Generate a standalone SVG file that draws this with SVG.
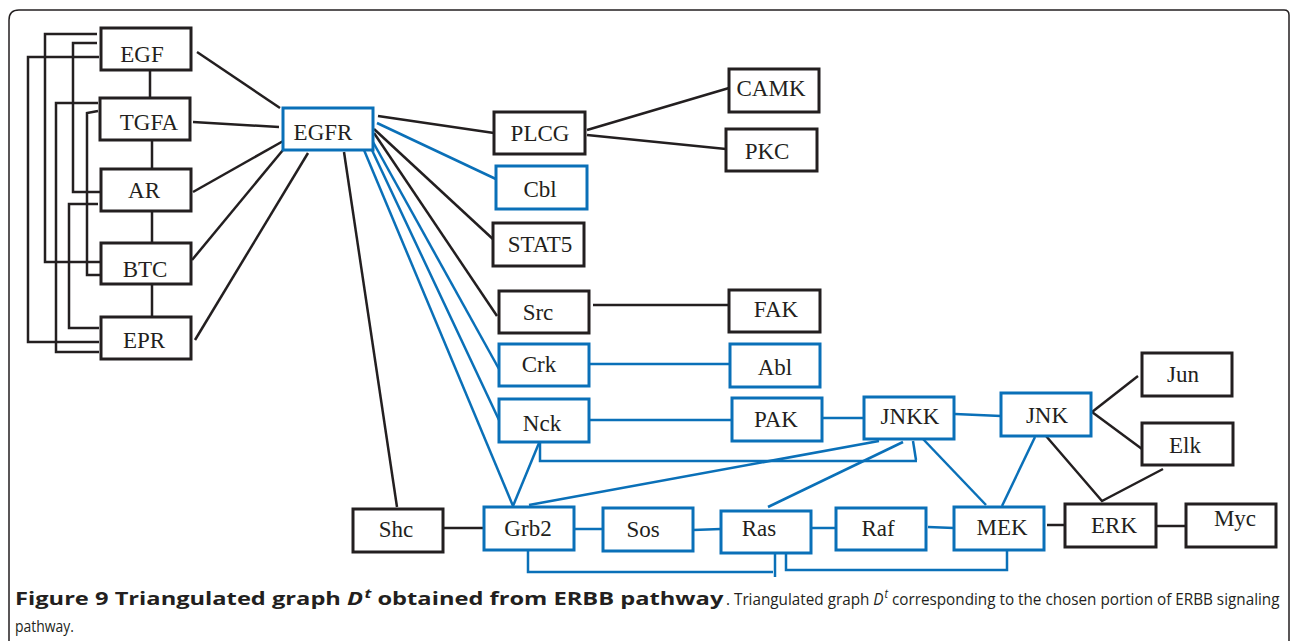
<svg xmlns="http://www.w3.org/2000/svg" width="1290" height="641" viewBox="0 0 1290 641">
<style>
.k{fill:#fff;stroke:#231f20;stroke-width:3}
.b{fill:#fff;stroke:#0a70b8;stroke-width:3}
.t{font-family:"Liberation Serif","Times New Roman",serif;font-size:23px;fill:#231f20;text-anchor:middle}
.lk{fill:none;stroke:#231f20;stroke-width:2.5}
.lb{fill:none;stroke:#0a70b8;stroke-width:2.5}
.cap{font-family:"Open Sans","Liberation Sans",sans-serif;font-size:17px;fill:#231f20}
</style>
<rect width="1290" height="641" fill="#fff"/>
<path d="M9 641 V20 Q9 10 19 10 H1284 Q1289 10 1289 15 V641" fill="none" stroke="#231f20" stroke-width="1.5"/>
<g id="connectors">
<g class="lk">
<path d="M97 34 H45 V262 H100"/>
<path d="M97 43 H73 V192 H100"/>
<path d="M99 57 H28 V342 H99"/>
<path d="M98 103 H56 V352 H99"/>
<path d="M98 111 L87 113 V275 H100"/>
<path d="M98 204 H69 V328 H99"/>
<path d="M150 70 V98 M152 140 V169 M152 211 V243 M152 284 V317"/>
<path d="M197 52 L280 108"/>
<path d="M193 122 L279 127"/>
<path d="M193 192 L285 140"/>
<path d="M192 260 L283 150"/>
<path d="M195 340 L308 153"/>
<path d="M344 152 L397 507"/>
<path d="M378 116 L494 133"/>
<path d="M587 130 L729 88"/>
<path d="M587 135 L726 149"/>
<path d="M374 129 L495 241"/>
<path d="M374 133 L497 316"/>
<path d="M593 305 H729"/>
<path d="M443 528 H484"/>
<path d="M1092 412 L1138 376"/>
<path d="M1092 412 L1142 449"/>
<path d="M1046 436 L1102 501 L1163 469"/>
<path d="M1047 525 H1065"/>
<path d="M1157 526 H1186"/>
</g>
<g class="lb">
<path d="M377 123 L498 180"/>
<path d="M373 142 L499 369"/>
<path d="M371 148 L499 420"/>
<path d="M364 150 L513 506"/>
<path d="M589 364 H730"/>
<path d="M589 420 H733"/>
<path d="M822 418 H864"/>
<path d="M955 414 L1001 416"/>
<path d="M539 443 L513 506"/>
<path d="M540 443 V461 H917"/>
<path d="M913 441 L916 460"/>
<path d="M879 441 L529 505"/>
<path d="M903 442 L768 507"/>
<path d="M923 439 L986 505"/>
<path d="M1035 437 L1002 506"/>
<path d="M574 529 H603"/>
<path d="M693 530 L721 529"/>
<path d="M811 528 H836"/>
<path d="M928 527 L954 528"/>
<path d="M528 550 V572 H773"/>
<path d="M775 553 V577"/>
<path d="M786 553 V570 H1007 V550"/>
</g>
</g>
<g id="EGF"><rect class="k" x="101" y="28" width="90" height="42"/><text class="t" x="142" y="62">EGF</text></g>
<g id="TGFA"><rect class="k" x="100" y="98" width="90" height="42"/><text class="t" x="149" y="130">TGFA</text></g>
<g id="AR"><rect class="k" x="101" y="169" width="90" height="42"/><text class="t" x="144" y="198">AR</text></g>
<g id="BTC"><rect class="k" x="101" y="243" width="90" height="41"/><text class="t" x="145" y="277">BTC</text></g>
<g id="EPR"><rect class="k" x="101" y="317" width="90" height="42"/><text class="t" x="144" y="348">EPR</text></g>
<g id="EGFR"><rect class="b" x="283" y="108" width="90" height="42"/><text class="t" x="323" y="140">EGFR</text></g>
<g id="PLCG"><rect class="k" x="494" y="112" width="91" height="42"/><text class="t" x="540" y="141">PLCG</text></g>
<g id="CAMK"><rect class="k" x="729" y="69" width="90" height="43"/><text class="t" x="771" y="96">CAMK</text></g>
<g id="PKC"><rect class="k" x="726" y="129" width="91" height="42"/><text class="t" x="767" y="159">PKC</text></g>
<g id="Cbl"><rect class="b" x="496" y="166" width="91" height="43"/><text class="t" x="540" y="197">Cbl</text></g>
<g id="STAT5"><rect class="k" x="493" y="223" width="91" height="43"/><text class="t" x="540" y="252">STAT5</text></g>
<g id="Src"><rect class="k" x="499" y="291" width="90" height="42"/><text class="t" x="538" y="320">Src</text></g>
<g id="FAK"><rect class="k" x="729" y="290" width="91" height="42"/><text class="t" x="776" y="317">FAK</text></g>
<g id="Crk"><rect class="b" x="499" y="344" width="90" height="42"/><text class="t" x="539" y="372">Crk</text></g>
<g id="Abl"><rect class="b" x="730" y="344" width="90" height="43"/><text class="t" x="775" y="375">Abl</text></g>
<g id="Nck"><rect class="b" x="499" y="399" width="90" height="43"/><text class="t" x="542" y="431">Nck</text></g>
<g id="PAK"><rect class="b" x="732" y="398" width="90" height="43"/><text class="t" x="776" y="427">PAK</text></g>
<g id="JNKK"><rect class="b" x="864" y="397" width="90" height="42"/><text class="t" x="910" y="424">JNKK</text></g>
<g id="JNK"><rect class="b" x="1001" y="393" width="90" height="43"/><text class="t" x="1047" y="423">JNK</text></g>
<g id="Jun"><rect class="k" x="1142" y="353" width="90" height="43"/><text class="t" x="1183" y="382">Jun</text></g>
<g id="Elk"><rect class="k" x="1142" y="423" width="91" height="42"/><text class="t" x="1185" y="453">Elk</text></g>
<g id="Shc"><rect class="k" x="353" y="509" width="90" height="43"/><text class="t" x="396" y="537">Shc</text></g>
<g id="Grb2"><rect class="b" x="484" y="507" width="90" height="43"/><text class="t" x="528" y="536">Grb2</text></g>
<g id="Sos"><rect class="b" x="603" y="508" width="90" height="43"/><text class="t" x="643" y="537">Sos</text></g>
<g id="Ras"><rect class="b" x="721" y="511" width="90" height="42"/><text class="t" x="759" y="536">Ras</text></g>
<g id="Raf"><rect class="b" x="836" y="508" width="90" height="42"/><text class="t" x="878" y="536">Raf</text></g>
<g id="MEK"><rect class="b" x="954" y="507" width="90" height="43"/><text class="t" x="1002" y="535">MEK</text></g>
<g id="ERK"><rect class="k" x="1065" y="504" width="91" height="43"/><text class="t" x="1114" y="533">ERK</text></g>
<g id="Myc"><rect class="k" x="1186" y="504" width="90" height="43"/><text class="t" x="1235" y="526">Myc</text></g>
<text class="cap" transform="translate(15 605) scale(1.1 1)" x="0" y="0" font-size="18" font-weight="bold" textLength="644" lengthAdjust="spacingAndGlyphs">Figure 9 Triangulated graph <tspan font-style="italic">D</tspan><tspan font-style="italic" font-size="12" dx="1" dy="-7">t</tspan><tspan dy="7"> obtained from ERBB pathway</tspan></text>
<text class="cap" transform="translate(726 605) scale(0.82 1)" x="0" y="0" font-size="18" textLength="675" lengthAdjust="spacingAndGlyphs">. Triangulated graph <tspan font-style="italic">D</tspan><tspan font-style="italic" font-size="12" dx="1" dy="-7">t</tspan><tspan dy="7"> corresponding to the chosen portion of ERBB signaling</tspan></text>
<text class="cap" transform="translate(15 632) scale(0.82 1)" x="0" y="0" font-size="18">pathway.</text>
</svg>
